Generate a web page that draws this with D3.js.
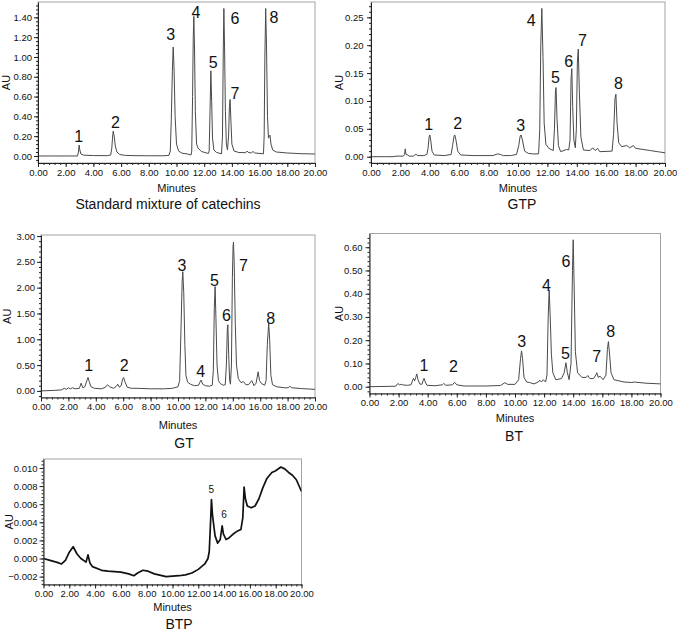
<!DOCTYPE html>
<html>
<head>
<meta charset="utf-8">
<script src="https://cdn.jsdelivr.net/npm/d3@7"></script>
<style>
    body { margin: 0; background: #fff; }
    svg { display: block; font-family: "Liberation Sans", Arial, sans-serif; }
</style>
</head>
<body>
<div id="chart"></div>
<script>
// ---- data: [minutes, AU] ----
const stdTrace = [[0,0],[1,0],[2,0],[2.85,0],[2.92,0.04],[2.97,0.11],[3.02,0.06],[3.1,0.02],[3.3,0.008],[4,0.004],[5,0.003],[5.25,0.01],[5.33,0.08],[5.38,0.18],[5.43,0.25],[5.5,0.2],[5.58,0.1],[5.7,0.04],[5.9,0.015],[6.3,0.006],[7,0.003],[8,0.002],[9,0.002],[9.45,0.005],[9.55,0.05],[9.62,0.35],[9.7,0.85],[9.76,1.10],[9.82,0.9],[9.9,0.4],[10,0.12],[10.15,0.05],[10.4,0.028],[10.8,0.02],[11.05,0.01],[11.1,0.05],[11.16,0.6],[11.21,1.2],[11.25,1.41],[11.3,1.1],[11.36,0.45],[11.45,0.12],[11.55,0.08],[11.8,0.045],[12.3,0.025],[12.36,0.05],[12.42,0.45],[12.48,0.86],[12.54,0.55],[12.6,0.18],[12.7,0.06],[12.9,0.035],[13.25,0.022],[13.32,0.2],[13.38,1.1],[13.42,1.49],[13.47,1.1],[13.53,0.45],[13.6,0.12],[13.68,0.06],[13.76,0.2],[13.82,0.5],[13.87,0.57],[13.93,0.35],[14.0,0.12],[14.15,0.05],[14.5,0.035],[15.0,0.033],[15.1,0.05],[15.22,0.032],[15.42,0.033],[15.52,0.045],[15.65,0.03],[16.28,0.022],[16.33,0.2],[16.38,1.0],[16.44,1.49],[16.5,1.1],[16.57,0.4],[16.64,0.18],[16.7,0.2],[16.75,0.21],[16.82,0.12],[16.95,0.06],[17.2,0.04],[18,0.03],[19,0.023],[20,0.02]];

const gtpTrace = [[0,0],[1,0],[1.5,0],[1.7,0.001],[2.2,0.001],[2.28,0.004],[2.33,0.014],[2.38,0.004],[2.5,0.003],[2.6,0.001],[2.9,0.001],[3.05,0.005],[3.15,0.002],[3.6,0.002],[3.8,0.004],[3.88,0.015],[3.95,0.035],[4.0,0.039],[4.06,0.03],[4.15,0.01],[4.3,0.003],[5,0.002],[5.45,0.004],[5.55,0.02],[5.65,0.037],[5.7,0.039],[5.78,0.03],[5.9,0.01],[6.1,0.003],[7,0.002],[8.3,0.002],[8.6,0.005],[8.8,0.004],[9,0.002],[9.5,0.002],[9.9,0.004],[10.05,0.02],[10.15,0.037],[10.21,0.039],[10.3,0.03],[10.45,0.01],[10.7,0.006],[11,0.005],[11.4,0.005],[11.48,0.05],[11.55,0.2],[11.62,0.266],[11.7,0.18],[11.78,0.06],[11.9,0.022],[12.1,0.015],[12.4,0.011],[12.48,0.05],[12.55,0.12],[12.59,0.124],[12.65,0.07],[12.75,0.02],[12.9,0.009],[13.3,0.013],[13.45,0.012],[13.54,0.03],[13.61,0.14],[13.66,0.158],[13.72,0.09],[13.8,0.03],[13.9,0.016],[13.97,0.05],[14.04,0.17],[14.1,0.193],[14.17,0.12],[14.28,0.035],[14.45,0.012],[14.9,0.011],[15.08,0.016],[15.25,0.011],[15.42,0.015],[15.55,0.009],[16.4,0.01],[16.5,0.04],[16.6,0.105],[16.66,0.112],[16.74,0.06],[16.85,0.025],[17.05,0.018],[17.4,0.02],[17.6,0.016],[17.85,0.02],[18,0.015],[18.5,0.013],[19,0.011],[19.5,0.009],[20,0.007]];

const gtTrace = [[0,0],[1,0.01],[1.5,0.02],[1.7,0.05],[1.85,0.03],[2.0,0.06],[2.15,0.04],[2.3,0.06],[2.5,0.04],[2.8,0.05],[2.93,0.15],[3.05,0.06],[3.2,0.08],[3.35,0.2],[3.43,0.26],[3.52,0.18],[3.65,0.08],[3.9,0.05],[4.4,0.04],[4.7,0.07],[4.86,0.12],[5.0,0.08],[5.3,0.05],[5.5,0.09],[5.6,0.13],[5.72,0.07],[5.85,0.1],[5.95,0.22],[6.03,0.26],[6.12,0.18],[6.3,0.07],[6.6,0.05],[7,0.05],[8,0.04],[9,0.04],[9.6,0.05],[10,0.08],[10.12,0.2],[10.22,1.2],[10.3,2.1],[10.35,2.31],[10.42,1.9],[10.5,0.9],[10.58,0.3],[10.7,0.17],[10.9,0.13],[11.2,0.1],[11.5,0.11],[11.6,0.17],[11.69,0.21],[11.8,0.13],[12.0,0.1],[12.3,0.09],[12.5,0.11],[12.58,0.4],[12.65,1.6],[12.71,2.02],[12.77,1.4],[12.85,0.5],[12.95,0.2],[13.1,0.14],[13.3,0.11],[13.45,0.12],[13.53,0.5],[13.6,1.2],[13.64,1.28],[13.7,0.7],[13.77,0.2],[13.83,0.13],[13.9,0.5],[13.97,2.2],[14.02,2.8],[14.05,2.88],[14.1,2.5],[14.18,1.3],[14.27,0.5],[14.4,0.24],[14.6,0.16],[14.78,0.18],[14.95,0.12],[15.15,0.12],[15.38,0.2],[15.55,0.1],[15.7,0.15],[15.85,0.37],[15.95,0.2],[16.1,0.14],[16.33,0.11],[16.43,0.2],[16.52,0.9],[16.62,1.31],[16.69,1.0],[16.78,0.3],[16.9,0.12],[17.2,0.08],[17.8,0.06],[18.05,0.06],[18.15,0.09],[18.3,0.06],[19,0.045],[20,0.03]];

const btTrace = [[0,0],[1.8,0.002],[1.95,0.014],[2.05,0.008],[2.2,0.01],[2.35,0.007],[2.6,0.006],[2.85,0.008],[2.95,0.025],[3.02,0.036],[3.1,0.025],[3.18,0.04],[3.25,0.055],[3.33,0.03],[3.45,0.012],[3.6,0.01],[3.68,0.025],[3.75,0.036],[3.83,0.02],[3.95,0.006],[4.5,0.004],[5.0,0.008],[5.1,0.014],[5.25,0.006],[5.7,0.008],[5.85,0.019],[6.0,0.008],[6.5,0.003],[8,0.003],[9,0.005],[9.3,0.017],[9.5,0.01],[10,0.01],[10.25,0.03],[10.38,0.12],[10.45,0.154],[10.52,0.12],[10.62,0.04],[10.8,0.02],[11,0.018],[11.3,0.012],[11.6,0.02],[11.7,0.028],[11.82,0.02],[11.95,0.03],[12.1,0.02],[12.2,0.05],[12.28,0.3],[12.35,0.416],[12.42,0.3],[12.5,0.14],[12.6,0.06],[12.8,0.03],[13.2,0.035],[13.38,0.06],[13.5,0.103],[13.6,0.06],[13.72,0.03],[13.85,0.1],[13.95,0.5],[14.0,0.632],[14.06,0.45],[14.15,0.15],[14.3,0.06],[14.6,0.04],[14.9,0.04],[15.0,0.048],[15.15,0.035],[15.4,0.035],[15.55,0.05],[15.62,0.06],[15.72,0.04],[15.85,0.045],[16.05,0.03],[16.25,0.05],[16.35,0.16],[16.42,0.194],[16.5,0.14],[16.6,0.06],[16.8,0.03],[17.5,0.02],[18,0.018],[18.2,0.02],[19,0.015],[20,0.012]];

const btpTrace = [[0,0],[0.5,-0.0002],[1.0,-0.0004],[1.4,-0.0006],[1.7,-0.0002],[2.0,0.0007],[2.3,0.0013],[2.6,0.0005],[2.9,0],[3.3,-0.0004],[3.45,0.0004],[3.6,-0.0005],[3.8,-0.0009],[4.5,-0.0013],[5,-0.0014],[6,-0.0015],[6.6,-0.0017],[7,-0.0019],[7.3,-0.0016],[7.7,-0.0013],[8.1,-0.0014],[8.6,-0.0017],[9.5,-0.002],[10.5,-0.0019],[11,-0.0018],[11.5,-0.0016],[12,-0.0012],[12.5,-0.0006],[12.75,0],[12.85,0.0008],[12.95,0.004],[13.02,0.0065],[13.1,0.0048],[13.3,0.0025],[13.5,0.0017],[13.7,0.0021],[13.85,0.0036],[13.95,0.0027],[14.15,0.0021],[14.4,0.0023],[14.7,0.0027],[15,0.003],[15.3,0.0032],[15.45,0.0045],[15.55,0.0079],[15.65,0.0066],[15.8,0.0058],[16.1,0.0056],[16.4,0.0058],[16.7,0.0066],[17,0.0078],[17.3,0.0088],[17.7,0.0095],[18,0.0097],[18.4,0.0101],[18.7,0.0099],[19,0.0095],[19.3,0.0092],[19.6,0.0087],[20,0.0074]];

// peak numbers: [label, minutes, AU] (centre of the number)
const stdPeaks = [["1",2.94,0.195],["2",5.59,0.337],["3",9.59,1.229],["4",11.40,1.451],["5",12.65,0.946],["6",14.22,1.39],["7",14.22,0.633],["8",17.04,1.40]];
const gtpPeaks = [["1",3.92,0.0586],["2",5.89,0.0598],["3",10.19,0.0568],["4",10.89,0.245],["5",12.55,0.142],["6",13.45,0.172],["7",14.38,0.209],["8",16.83,0.1316]];
const gtPeaks = [["1",3.48,0.503],["2",6.08,0.503],["3",10.28,2.426],["4",11.66,0.374],["5",12.66,2.148],["6",13.54,1.471],["7",14.78,2.439],["8",16.77,1.406]];
const btPeaks = [["1",3.75,0.0933],["2",5.77,0.0861],["3",10.46,0.194],["4",12.17,0.435],["5",13.46,0.1435],["6",13.50,0.538],["7",15.61,0.129],["8",16.57,0.237]];
const btpPeaks = [["5",13.01,0.00765],["6",13.99,0.00489]];

// axis ticks
const xTicks = d3.range(0, 20.01, 2);
const stdTicks = [0, 0.2, 0.4, 0.6, 0.8, 1.0, 1.2, 1.4];
const gtpTicks = [0, 0.05, 0.10, 0.15, 0.20, 0.25];
const gtTicks = [0, 0.5, 1.0, 1.5, 2.0, 2.5, 3.0];
const btTicks = [0, 0.1, 0.2, 0.3, 0.4, 0.5, 0.6];
const btpTicks = [-0.002, 0, 0.002, 0.004, 0.006, 0.008, 0.010];

const titles = ["Standard mixture of catechins", "GTP", "GT", "BT", "BTP"];

// ---- layout ----
const panels = [
    {trace: stdTrace, peaks: stdPeaks, yTicks: stdTicks, fmt: ".2f", title: titles[0],
     left: 38, right: 315, top: 2, bottom: 163, yDomain: [-0.071, 1.555], pad: 2,
     auX: 6, minutesY: 188, titleX: 168, titleY: 204, peakSize: 16},
    {trace: gtpTrace, peaks: gtpPeaks, yTicks: gtpTicks, fmt: ".2f", title: titles[1],
     left: 371, right: 665, top: 2, bottom: 163, yDomain: [-0.0113, 0.2775], pad: 3.5,
     auX: 339, minutesY: 188, titleX: 522, titleY: 204, peakSize: 16},
    {trace: gtTrace, peaks: gtPeaks, yTicks: gtTicks, fmt: ".2f", title: titles[2],
     left: 41, right: 315, top: 235, bottom: 397.5, yDomain: [-0.128, 3.02], pad: 2,
     auX: 7, minutesY: 425, titleX: 184, titleY: 443, peakSize: 16},
    {trace: btTrace, peaks: btPeaks, yTicks: btTicks, fmt: ".2f", title: titles[3],
     left: 369.5, right: 660.5, top: 233.5, bottom: 393.5, yDomain: [-0.0293, 0.659], pad: 3,
     auX: 339, minutesY: 418, titleX: 514, titleY: 436, peakSize: 16},
    {trace: btpTrace, peaks: btpPeaks, yTicks: btpTicks, fmt: ".3f", title: titles[4],
     left: 43.5, right: 301.5, top: 459, bottom: 584.5, yDomain: [-0.00287, 0.01099], pad: 2,
     auX: 9, minutesY: 607, titleX: 179, titleY: 624, peakSize: 10, heavy: true}
];

const svg = d3.select("#chart").append("svg")
    .attr("width", 677)
    .attr("height", 634);

panels.forEach((p, i) => drawPanel(p, i));

function drawPanel(p, i) {
    let x = d3.scaleLinear().domain([0, 20]).range([p.left, p.right]);
    let y = d3.scaleLinear().domain(p.yDomain).range([p.bottom, p.top]);
    let g = svg.append("g");

    g.append("clipPath").attr("id", "clip" + i)
        .append("rect")
        .attr("x", p.left).attr("y", p.top)
        .attr("width", p.right - p.left).attr("height", p.bottom - p.top);

    // grey frame
    g.append("rect")
        .attr("x", p.left).attr("y", p.top)
        .attr("width", p.right - p.left).attr("height", p.bottom - p.top)
        .attr("fill", "none")
        .attr("stroke", "#a3a3a3")
        .attr("stroke-width", 1);

    let line = d3.line().x(d => x(d[0])).y(d => y(d[1]));
    g.append("path")
        .datum(p.trace)
        .attr("clip-path", "url(#clip" + i + ")")
        .attr("d", line)
        .attr("fill", "none")
        .attr("stroke", p.heavy ? "#111" : "#4a4a4a")
        .attr("stroke-width", p.heavy ? 1.7 : 1)
        .attr("stroke-linejoin", "round");

    // minor ticks (5 per interval)
    let xMinor = d3.range(0, 20.001, 0.4);
    let yStep = p.yTicks[1] - p.yTicks[0];
    let yMinor = [];
    for (let v = p.yTicks[0] - yStep; v <= p.yDomain[1]; v += yStep / 5) {
        if (v >= p.yDomain[0]) yMinor.push(v);
    }

    let xMinorAxis = g.append("g").attr("transform", "translate(0," + p.bottom + ")")
        .call(d3.axisBottom(x).tickValues(xMinor).tickSize(2).tickFormat(""));
    xMinorAxis.select(".domain").remove();

    let yMinorAxis = g.append("g").attr("transform", "translate(" + p.left + ",0)")
        .call(d3.axisLeft(y).tickValues(yMinor).tickSize(2).tickFormat(""));
    yMinorAxis.select(".domain").remove();

    let xAxis = g.append("g").attr("transform", "translate(0," + p.bottom + ")")
        .call(d3.axisBottom(x).tickValues(xTicks).tickSize(4).tickSizeOuter(0)
            .tickPadding(2).tickFormat(d3.format(".2f")));

    let yAxis = g.append("g").attr("transform", "translate(" + p.left + ",0)")
        .call(d3.axisLeft(y).tickValues(p.yTicks).tickSize(4).tickSizeOuter(0)
            .tickPadding(p.pad).tickFormat(d3.format(p.fmt)));

    [xAxis, yAxis, xMinorAxis, yMinorAxis].forEach(a => {
        a.attr("font-family", null).attr("font-size", null);
        a.selectAll("line").attr("stroke", "#222");
        a.selectAll("path").attr("stroke", "#222");
        a.selectAll("text").attr("fill", "#111").style("font-size", "9.5px");
    });

    // peak numbers
    g.selectAll(".peak")
        .data(p.peaks)
        .enter().append("text")
        .attr("x", d => x(d[1]))
        .attr("y", d => y(d[2]))
        .attr("dy", "0.36em")
        .attr("text-anchor", "middle")
        .style("font-size", p.peakSize + "px")
        .attr("fill", "#111")
        .text(d => d[0]);

    g.append("text")
        .attr("x", (p.left + p.right) / 2)
        .attr("y", p.minutesY)
        .attr("dy", "0.36em")
        .attr("text-anchor", "middle")
        .style("font-size", "11px")
        .attr("fill", "#111")
        .text("Minutes");

    g.append("text")
        .attr("transform", "translate(" + p.auX + "," + ((p.top + p.bottom) / 2) + ") rotate(-90)")
        .attr("dy", "0.36em")
        .attr("text-anchor", "middle")
        .style("font-size", "11px")
        .attr("fill", "#111")
        .text("AU");

    g.append("text")
        .attr("x", p.titleX)
        .attr("y", p.titleY)
        .attr("dy", "0.36em")
        .attr("text-anchor", "middle")
        .style("font-size", "14px")
        .attr("fill", "#111")
        .text(p.title);
}
</script>
</body>
</html>
